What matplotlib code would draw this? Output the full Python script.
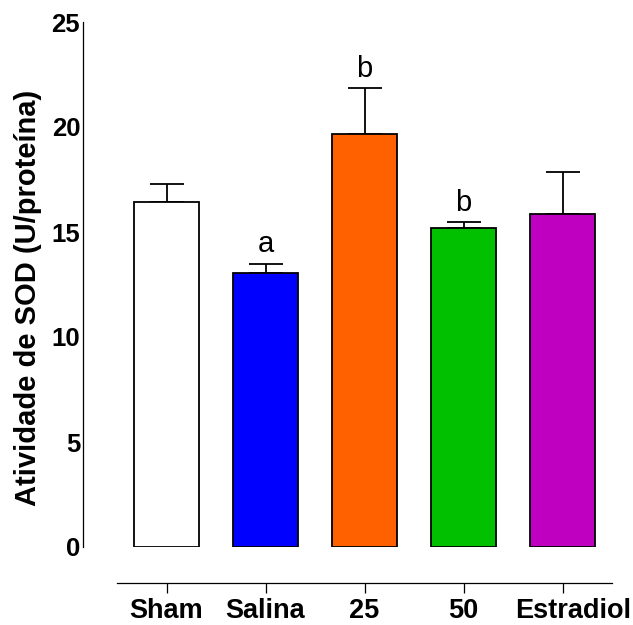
import matplotlib

matplotlib.use("Agg")
import matplotlib.pyplot as plt
import matplotlib.transforms as mtransforms
import numpy as np

# ---- data -----------------------------------------------------------------
groups = ["Sham", "Salina", "25", "50", "Estradiol"]
means = [16.45, 13.03, 19.65, 15.2, 15.85]
sem = [0.82, 0.45, 2.2, 0.27, 2.0]
letters = ["", "a", "b", "b", ""]
colors = ["#ffffff", "#0000ff", "#ff6000", "#00c000", "#c000c0"]

plt.rcParams["font.family"] = ["Liberation Sans", "DejaVu Sans"]

fig = plt.figure(figsize=(6.33, 6.25), dpi=100)
ax = fig.add_axes([117 / 633, 1 - 547 / 625, 495 / 633, 525 / 625])

x = np.arange(len(groups))
ax.bar(x, means, width=0.665, color=colors, edgecolor="black", linewidth=1.3,
       zorder=2)
ax.errorbar(x, means, yerr=[np.zeros(len(sem)), sem], fmt="none",
            ecolor="black", elinewidth=1.3, capsize=12, capthick=1.3, zorder=1)

for xi, m, e, t in zip(x, means, sem, letters):
    if t:
        ax.text(xi, m + e + 0.55, t, ha="center", va="baseline", fontsize=21)

ax.set_xlim(-0.5, 4.5)
ax.set_ylim(0, 25)
ax.set_yticks([0, 5, 10, 15, 20, 25])
ax.set_xticks(x)
ax.set_xticklabels(groups)

for side in ("top", "right"):
    ax.spines[side].set_visible(False)
ax.spines["left"].set_position(("outward", 24.5))
ax.spines["bottom"].set_position(("outward", 26))
for side in ("left", "bottom"):
    ax.spines[side].set_linewidth(0.9)

ax.tick_params(axis="y", length=0, pad=2, labelsize=18.5)
ax.tick_params(axis="x", length=7, width=0.9, pad=3.5, labelsize=19.5)
for lab in ax.get_xticklabels() + ax.get_yticklabels():
    lab.set_fontweight("bold")

# the last label sits a little right of its tick in the original
last = ax.get_xticklabels()[-1]
last.set_transform(last.get_transform() +
                   mtransforms.ScaledTranslation(8 / 72, 0, fig.dpi_scale_trans))

fig.text(28 / 633, 1 - 298 / 625, "Atividade de SOD (U/proteína)",
         rotation=90, ha="center", va="center", fontsize=21, fontweight="bold")

fig.savefig("out.png", dpi=100)
